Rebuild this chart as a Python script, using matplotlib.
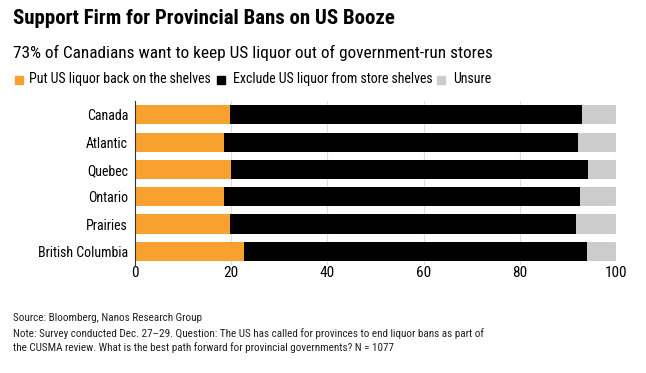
import matplotlib
matplotlib.use("Agg")
import matplotlib.pyplot as plt
import numpy as np

plt.rcParams['font.family'] = ['Roboto Condensed', 'DejaVu Sans']

# Survey shares (%)
regions = ['Canada', 'Atlantic', 'Quebec', 'Ontario', 'Prairies', 'British Columbia']
back_on_shelves = [19.8, 18.6, 20.0, 18.6, 19.8, 22.6]
exclude = [73.2, 73.5, 74.2, 74.0, 71.8, 71.3]
unsure = [7.0, 7.9, 5.8, 7.4, 8.4, 6.1]
series_names = ['Put US liquor back on the shelves', 'Exclude US liquor from store shelves', 'Unsure']
xticks = [0, 20, 40, 60, 80, 100]

colors = ['#F9A12E', '#000000', '#CCCCCC']

fig = plt.figure(figsize=(6.46, 3.73), dpi=100)
ax = fig.add_axes([0.209, 0.2895, 0.7446, 0.4395])

y = np.arange(len(regions))
left = np.zeros(len(regions))
for vals, c in zip([back_on_shelves, exclude, unsure], colors):
    ax.barh(y, vals, left=left, height=0.7, color=c, zorder=2)
    left = left + np.array(vals)

ax.set_ylim(len(regions) - 0.5, -0.5)
ax.set_xlim(0, 100)
ax.set_yticks(y)
ax.set_yticklabels(regions, fontsize=10)
ax.set_xticks(xticks)
ax.set_xticklabels([str(t) for t in xticks], fontsize=11)
ax.tick_params(axis='y', length=0, pad=5)
ax.tick_params(axis='x', length=0, pad=1)
ax.grid(axis='x', color='#DDDDDD', linewidth=0.8, zorder=0)
for s in ['top', 'right', 'bottom']:
    ax.spines[s].set_visible(False)
ax.spines['left'].set_color('#333333')
ax.spines['left'].set_linewidth(0.8)
ax.spines['left'].set_zorder(3)

fig.text(0.02, 0.95, 'Support Firm for Provincial Bans on US Booze',
         fontsize=15, fontweight='bold', va='center', ha='left')
fig.text(0.02, 0.858, '73% of Canadians want to keep US liquor out of government-run stores',
         fontsize=12.4, va='center', ha='left')

# legend row
sq_x = [15, 217, 437]
txt_x = [29, 233, 453]
for sx, tx, name, c in zip(sq_x, txt_x, series_names, colors):
    fig.patches.append(plt.Rectangle((sx / 646, 1 - 84 / 373), 8 / 646, 8 / 373,
                                     transform=fig.transFigure, color=c, figure=fig))
    fig.text(tx / 646, 1 - 79 / 373, name, fontsize=10, va='center', ha='left')

fig.text(0.02, 0.147, 'Source: Bloomberg, Nanos Research Group', fontsize=8, va='center', color='#222222')
fig.text(0.02, 0.107, 'Note: Survey conducted Dec. 27\u201329. Question: The US has called for provinces to end liquor bans as part of',
         fontsize=8, va='center', color='#222222')
fig.text(0.02, 0.069, 'the CUSMA review. What is the best path forward for provincial governments? N = 1077',
         fontsize=8, va='center', color='#222222')

fig.savefig('out.png', dpi=100)
